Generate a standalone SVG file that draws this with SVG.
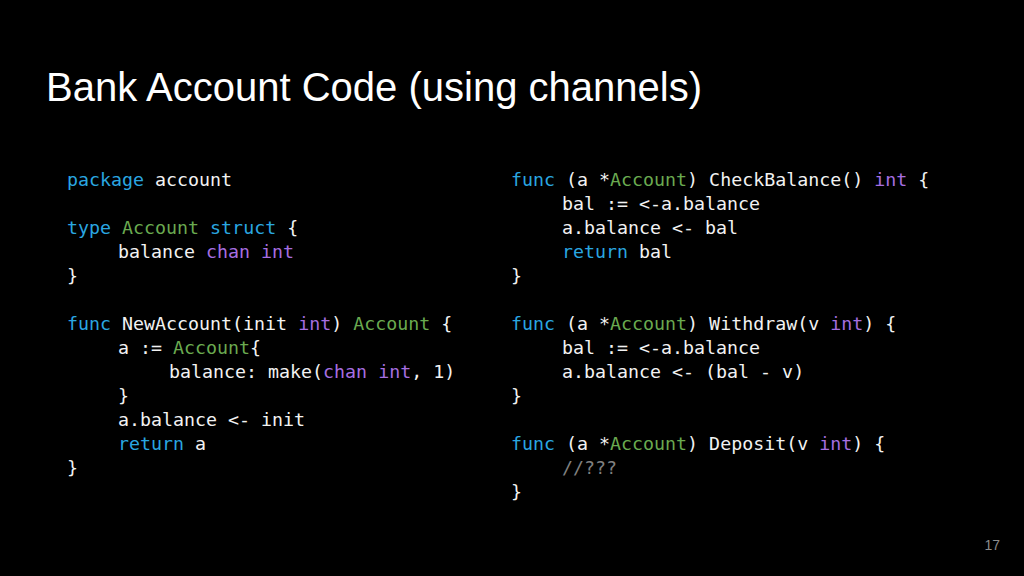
<svg xmlns="http://www.w3.org/2000/svg" width="1024" height="576" viewBox="0 0 1024 576">
<style>
.c{font-family:"DejaVu Sans Mono","Liberation Mono",monospace;font-size:18.3px;fill:#f2f2f2;white-space:pre}
.c text{stroke:currentColor;stroke-width:0}
.k{fill:#2aa7e0}.t{fill:#6aaa50}.p{fill:#a66ee0}.g{fill:#808080}
</style>
<rect width="1024" height="576" fill="#000"/>
<text x="46" y="101" font-family="Liberation Sans,Arial,sans-serif" font-size="40" fill="#fff">Bank Account Code (using channels)</text>
<text x="1000" y="550" text-anchor="end" font-family="Liberation Sans,Arial,sans-serif" font-size="14" fill="#8c8c8c">17</text>
<g id="left" class="c">
<text x="67" y="186"><tspan class="k">package</tspan> account</text>
<text x="67" y="234"><tspan class="k">type</tspan> <tspan class="t">Account</tspan> <tspan class="k">struct</tspan> {</text>
<text x="118" y="258">balance <tspan class="p">chan</tspan> <tspan class="p">int</tspan></text>
<text x="67" y="282">}</text>
<text x="67" y="330"><tspan class="k">func</tspan> NewAccount(init <tspan class="p">int</tspan>) <tspan class="t">Account</tspan> {</text>
<text x="118" y="354">a := <tspan class="t">Account</tspan>{</text>
<text x="169" y="378">balance: make(<tspan class="p">chan</tspan> <tspan class="p">int</tspan>, 1)</text>
<text x="118" y="402">}</text>
<text x="118" y="426">a.balance &lt;- init</text>
<text x="118" y="450"><tspan class="k">return</tspan> a</text>
<text x="67" y="474">}</text>
</g>
<g id="right" class="c">
<text x="511" y="186"><tspan class="k">func</tspan> (a *<tspan class="t">Account</tspan>) CheckBalance() <tspan class="p">int</tspan> {</text>
<text x="562" y="210">bal := &lt;-a.balance</text>
<text x="562" y="234">a.balance &lt;- bal</text>
<text x="562" y="258"><tspan class="k">return</tspan> bal</text>
<text x="511" y="282">}</text>
<text x="511" y="330"><tspan class="k">func</tspan> (a *<tspan class="t">Account</tspan>) Withdraw(v <tspan class="p">int</tspan>) {</text>
<text x="562" y="354">bal := &lt;-a.balance</text>
<text x="562" y="378">a.balance &lt;- (bal - v)</text>
<text x="511" y="402">}</text>
<text x="511" y="450"><tspan class="k">func</tspan> (a *<tspan class="t">Account</tspan>) Deposit(v <tspan class="p">int</tspan>) {</text>
<text x="562" y="474" class="g">//???</text>
<text x="511" y="498">}</text>
</g>
</svg>
